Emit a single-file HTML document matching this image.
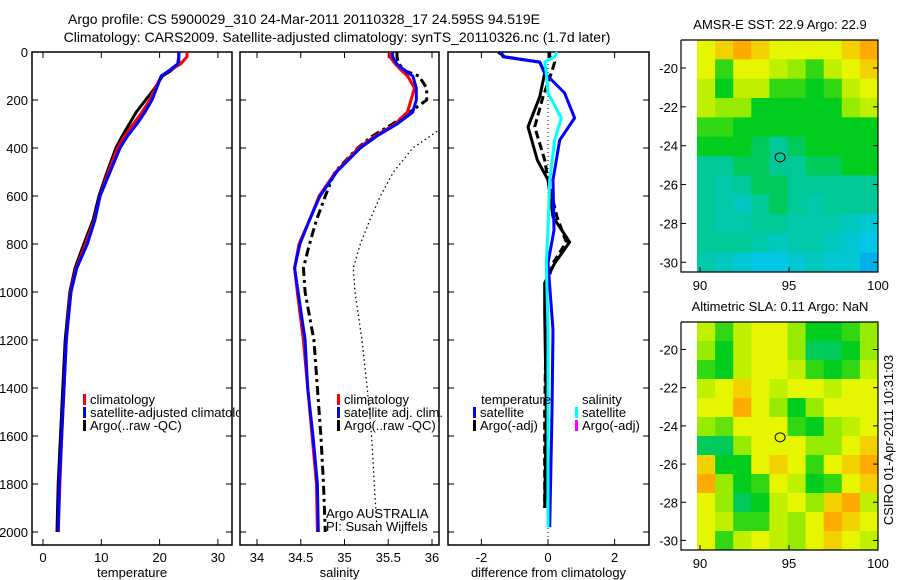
<!DOCTYPE html>
<html><head><meta charset="utf-8"><style>
html,body{margin:0;padding:0;background:#fff}
svg{display:block;font-family:"Liberation Sans",sans-serif;font-size:13px}
</style></head><body>
<svg id="c" width="900" height="580" viewBox="0 0 900 580">
<defs><clipPath id="cpl"><rect x="32" y="52" width="207" height="493"/></clipPath></defs>
<text x="304" y="24" text-anchor="middle" font-size="14">Argo profile: CS 5900029_310 24-Mar-2011 20110328_17 24.595S 94.519E</text>
<text x="337" y="42" text-anchor="middle" font-size="14">Climatology: CARS2009. Satellite-adjusted climatology: synTS_20110326.nc (1.7d later)</text>
<g id="g"></g>
<text transform="translate(893,440) rotate(-90)" text-anchor="middle">CSIRO 01-Apr-2011 10:31:03</text>
</svg>
<script>
// ---- data ----
const depths = [0,20,50,80,100,150,200,250,300,350,400,500,600,700,800,900,1000,1200,1400,1600,1800,2000];
const tempClim = [24.7,24.7,23.6,21.5,20.3,19.3,18.3,17.0,15.5,14.0,12.8,11.2,9.8,8.8,7.3,5.7,4.7,4.0,3.6,3.2,2.9,2.6];
const tempSat  = [23.3,23.3,23.1,21.5,20.3,19.5,18.7,17.5,16.1,14.5,13.2,11.5,9.8,8.9,7.6,5.8,4.8,4.0,3.6,3.2,2.8,2.6];
const tempArgo = [23.3,23.3,23.3,21.8,20.5,19.2,17.6,16.0,14.8,13.6,12.5,11.0,9.6,8.6,7.0,5.5,4.6,3.8,3.4,3.0,2.6,2.4];
const salClim  = [35.52,35.52,35.58,35.66,35.72,35.8,35.76,35.72,35.58,35.35,35.16,34.9,34.71,34.6,34.48,34.43,34.46,34.53,34.58,34.63,34.68,34.69];
const salSat   = [35.55,35.55,35.6,35.7,35.78,35.82,35.82,35.78,35.6,35.37,35.18,34.91,34.72,34.6,34.49,34.43,34.47,34.55,34.58,34.64,34.69,34.7];
const salArgo  = [35.6,35.6,35.62,35.7,35.85,35.94,35.94,35.75,35.55,35.32,35.15,34.89,34.78,34.68,34.6,34.53,34.55,34.65,34.69,34.73,34.76,34.78];
const stdDepths = [320,400,500,600,700,800,900,1000,1200,1400,1600,1800,1980];
const salDotted = [36.1,35.78,35.56,35.41,35.29,35.18,35.1,35.12,35.2,35.26,35.31,35.34,35.37];
const diffDepthsA = [0,20,42,88,171,275,367,533,742,880,1158,1500,1980];
const diffTempSat = [-1.4,-1.35,-0.25,-0.1,0.5,0.8,0.35,0.15,0.18,0.0,0.15,0.12,0.05];
const diffSalSat  = [0.27,0.2,-0.1,-0.05,0.0,0.4,0.2,0.05,0.0,-0.05,0.0,0.0,0.0];
const diffDepthsB = [0,20,42,88,187,312,450,533,687,792,880,962,1087,1500,1900];
const diffTempArgo = [-1.5,-1.3,-0.25,-0.1,-0.25,-0.6,-0.32,0,0.15,0.65,0.2,-0.1,-0.1,-0.05,-0.1];
const diffSalArgo  = [0.05,0.05,0.2,0.1,-0.15,-0.4,-0.1,0.0,0.27,0.55,0.15,-0.02,-0.05,-0.1,-0.1];
const depthTicks = [0,200,400,600,800,1000,1200,1400,1600,1800,2000];
const tempTicks = [0,10,20,30];
const salTicks = [34,34.5,35,35.5,36];
const diffTicks = [-2,0,2];
const lonTicks = [90,95,100];
const latTicks = [-20,-22,-24,-26,-28,-30];
const sstGrid = [
[0.8,0.85,0.9,0.85,0.8,0.8,0.8,0.8,0.85,0.9],
[0.8,0.6,0.8,0.8,0.75,0.7,0.6,0.75,0.8,0.85],
[0.75,0.55,0.75,0.75,0.6,0.6,0.55,0.6,0.75,0.8],
[0.75,0.7,0.7,0.55,0.55,0.55,0.55,0.55,0.7,0.75],
[0.6,0.6,0.55,0.55,0.55,0.55,0.55,0.55,0.55,0.55],
[0.55,0.55,0.55,0.5,0.45,0.5,0.55,0.55,0.55,0.55],
[0.45,0.45,0.5,0.5,0.45,0.45,0.5,0.5,0.55,0.55],
[0.45,0.4,0.45,0.5,0.5,0.45,0.45,0.45,0.45,0.45],
[0.45,0.4,0.35,0.45,0.5,0.45,0.4,0.45,0.45,0.45],
[0.45,0.4,0.4,0.45,0.45,0.4,0.4,0.4,0.35,0.3],
[0.45,0.45,0.45,0.4,0.35,0.4,0.4,0.35,0.3,0.25],
[0.4,0.35,0.3,0.25,0.25,0.3,0.35,0.3,0.3,0.2]];
const slaGrid = [
[0.75,0.6,0.75,0.8,0.8,0.7,0.55,0.55,0.6,0.7],
[0.7,0.55,0.75,0.8,0.8,0.7,0.5,0.5,0.55,0.7],
[0.6,0.55,0.75,0.8,0.8,0.75,0.6,0.55,0.6,0.75],
[0.75,0.8,0.85,0.8,0.75,0.8,0.8,0.75,0.8,0.8],
[0.8,0.8,0.9,0.8,0.7,0.55,0.7,0.8,0.8,0.8],
[0.7,0.65,0.8,0.8,0.8,0.6,0.55,0.7,0.75,0.8],
[0.5,0.5,0.7,0.8,0.8,0.8,0.7,0.7,0.8,0.85],
[0.85,0.55,0.55,0.8,0.85,0.8,0.6,0.8,0.85,0.9],
[0.9,0.7,0.55,0.6,0.8,0.75,0.55,0.6,0.8,0.85],
[0.8,0.7,0.5,0.55,0.75,0.8,0.7,0.85,0.9,0.75],
[0.8,0.75,0.6,0.6,0.75,0.7,0.8,0.9,0.85,0.8],
[0.8,0.6,0.75,0.8,0.75,0.7,0.8,0.85,0.8,0.75]];
const argoLon = 94.5, argoLat = -24.6;

const NS='http://www.w3.org/2000/svg';
const G=document.getElementById('g');
function mk(tag,attrs,parent){const e=document.createElementNS(NS,tag);for(const k in attrs)e.setAttribute(k,attrs[k]);(parent||G).appendChild(e);return e;}
const yD = d => 52 + d*0.24;

function panel(name,x0,x1,xs,ticks,xlabel,leftLabels){
  const g=mk('g',{});
  
  
  mk('rect',{x:x0,y:52,width:x1-x0,height:493,fill:'none',stroke:'#000','stroke-width':1.5},g);
  depthTicks.forEach(d=>{
    const y=yD(d);
    mk('line',{x1:x0,y1:y,x2:x0+6,y2:y,stroke:'#000'},g);
    mk('line',{x1:x1-6,y1:y,x2:x1,y2:y,stroke:'#000'},g);
    if(leftLabels){const t=mk('text',{x:x0-4,y:y+5,'text-anchor':'end'},g);t.textContent=d;
      
      }
  });
  ticks.forEach(v=>{
    const x=xs(v);
    mk('line',{x1:x,y1:545,x2:x,y2:539,stroke:'#000'},g);
    mk('line',{x1:x,y1:52,x2:x,y2:58,stroke:'#000'},g);
    const t=mk('text',{x:x,y:562,'text-anchor':'middle'},g);t.textContent=v;
    
    
  });
  const t=mk('text',{x:(x0+x1)/2,y:577,'text-anchor':'middle'},g);t.textContent=xlabel;
  
  
  return g;
}
function line(g,xs,xv,dv,color,w,dash,name){
  const pts=xv.map((v,i)=>xs(v).toFixed(1)+','+yD(dv[i]).toFixed(1)).join(' ');
  const p=mk('polyline',{points:pts,fill:'none',stroke:color,'stroke-width':w,'stroke-linejoin':'round'},g);
  if(dash)p.setAttribute('stroke-dasharray',dash);
  
  
}
function legend(g,x,y,items){
  items.forEach((it,i)=>{
    const r=mk('rect',{x:x,y:y+i*13-10,width:3,height:11,fill:it[1]},g);
    
    
    const t=mk('text',{x:x+7,y:y+i*13},g);t.textContent=it[0];
    
    
  });
}
// temperature panel
const xT=v=>43+v*5.83;
const g1=panel('temperature-panel',32,232,xT,tempTicks,'temperature',true);
line(g1,xT,tempArgo,depths,'#000',3,null,'argo-temperature-line');
line(g1,xT,tempClim,depths,'#f00',3,null,'climatology-temperature-line');
line(g1,xT,tempSat,depths,'#00f',3,null,'satellite-temperature-line');
const g1l=mk('g',{'clip-path':'url(#cpl)'},g1);
legend(g1l,83,404,[['climatology','#f00'],['satellite-adjusted climatology','#00f'],['Argo(..raw -QC)','#000']]);
// salinity panel
const xS=v=>257+(v-34)*87.5;
const g2=panel('salinity-panel',240,439,xS,salTicks,'salinity',false);
const clip=mk('clipPath',{id:'cp2'});mk('rect',{x:240,y:52,width:199,height:493},clip);
const g2c=mk('g',{'clip-path':'url(#cp2)'},g2);
line(g2c,xS,salDotted,stdDepths,'#000',1.3,'1.5,3','salinity-dotted-line');
line(g2c,xS,salArgo,depths,'#000',3,'9,4,3,4','argo-salinity-line');
line(g2c,xS,salClim,depths,'#f00',3,null,'climatology-salinity-line');
line(g2c,xS,salSat,depths,'#00f',3,null,'satellite-salinity-line');
legend(g2,337,404,[['climatology','#f00'],['satellite adj. clim.','#00f'],['Argo(..raw -QC)','#000']]);
let t=mk('text',{x:326,y:518},g2);t.textContent='Argo AUSTRALIA';


t=mk('text',{x:326,y:531},g2);t.textContent='PI: Susan Wijffels';


// difference panel
const xF=v=>548+v*33.3;
const g3=panel('difference-panel',448,649,xF,diffTicks,'difference from climatology',false);
mk('line',{x1:548,y1:52,x2:548,y2:545,stroke:'#000','stroke-dasharray':'1,3'},g3);
line(g3,xF,diffSalArgo,diffDepthsB,'#000',3,'8,4','argo-diff-dashed-line');
line(g3,xF,diffTempArgo,diffDepthsB,'#000',3,null,'argo-temp-diff-line');
line(g3,xF,diffTempSat,diffDepthsA,'#00f',3,null,'satellite-temp-diff-line');
line(g3,xF,diffSalSat,diffDepthsA,'#0ff',3,null,'satellite-sal-diff-line');
t=mk('text',{x:481,y:404},g3);t.textContent='temperature';


t=mk('text',{x:582,y:404},g3);t.textContent='salinity';


legend(g3,473,417,[['satellite','#00f'],['Argo(-adj)','#000']]);
legend(g3,575,417,[['satellite','#0ff'],['Argo(-adj)','#f0f']]);

// maps
const stops=[[0,[0,80,255]],[0.25,[0,200,230]],[0.45,[0,200,150]],[0.55,[0,205,30]],[0.7,[150,235,0]],[0.8,[230,245,0]],[0.9,[255,170,0]],[1,[255,120,0]]];
function cmap(v){for(let i=1;i<stops.length;i++){if(v<=stops[i][0]){const a=stops[i-1],b=stops[i],f=(v-a[0])/(b[0]-a[0]);return 'rgb('+a[1].map((c,k)=>Math.round(c+(b[1][k]-c)*f)).join(',')+')';}}return 'rgb(255,120,0)';}
function map(name,grid,top,bot,title){
  const g=mk('g',{});
  
  
  const x0=697,x1=878,rows=grid.length,cols=grid[0].length;
  const latTop=-18.56,latBot=-30.5;
  const yL=l=>top+(latTop-l)/(latTop-latBot)*(bot-top);
  const xL=l=>700+(l-90)*17.8;
  const cw=(x1-x0)/cols,ch=(bot-top)/rows;
  grid.forEach((row,r)=>row.forEach((v,c)=>{
    const e=mk('rect',{x:x0+c*cw,y:top+r*ch,width:cw+0.5,height:ch+0.5,fill:cmap(v)},g);
    
    
  }));
  mk('polyline',{points:`681,${top} ${x1},${top} ${x1},${bot} 681,${bot} 681,${top}`,fill:'none',stroke:'#000','stroke-width':1.2},g);
  latTicks.forEach(l=>{const y=yL(l);
    mk('line',{x1:681,y1:y,x2:686,y2:y,stroke:'#000'},g);
    mk('line',{x1:x1-5,y1:y,x2:x1,y2:y,stroke:'#000'},g);
    const tt=mk('text',{x:678,y:y+5,'text-anchor':'end'},g);tt.textContent=l;
    
    });
  lonTicks.forEach(l=>{const x=xL(l);
    mk('line',{x1:x,y1:bot,x2:x,y2:bot-5,stroke:'#000'},g);
    const tt=mk('text',{x:x,y:bot+18,'text-anchor':'middle'},g);tt.textContent=l;
    
    });
  const ci=mk('ellipse',{cx:xL(argoLon),cy:yL(argoLat),rx:5,ry:4.5,fill:'none',stroke:'#000'},g);
  
  
  const tt=mk('text',{x:780,y:top-11,'text-anchor':'middle'},g);tt.textContent=title;
  
  
}
map('sst-map',sstGrid,40,272,'AMSR-E SST: 22.9 Argo: 22.9');
map('sla-map',slaGrid,322,550,'Altimetric SLA: 0.11 Argo: NaN');
</script>
</body></html>
